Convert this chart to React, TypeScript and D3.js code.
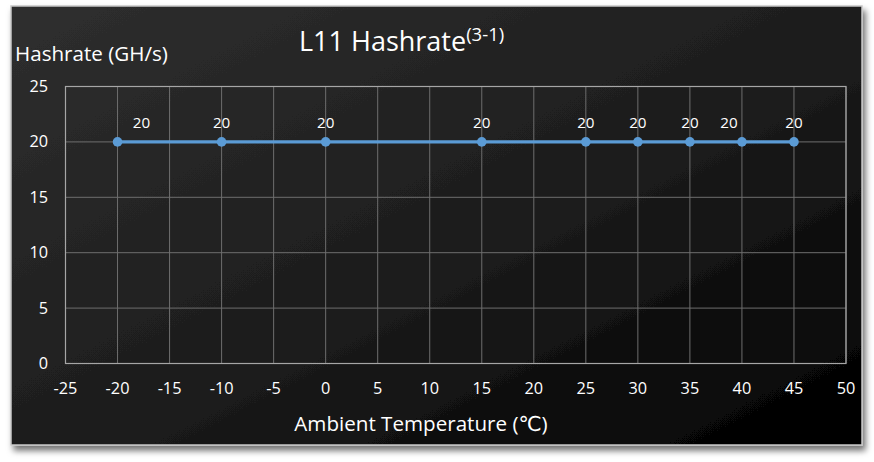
import React from "react";
import * as d3 from "d3";

const temperatures = [-20, -10, 0, 15, 25, 30, 35, 40, 45];
const hashrates = [20, 20, 20, 20, 20, 20, 20, 20, 20];
const xTicks = [-25, -20, -15, -10, -5, 0, 5, 10, 15, 20, 25, 30, 35, 40, 45, 50];
const yTicks = [0, 5, 10, 15, 20, 25];
const titleMain = "L11 Hashrate";
const titleSup = "(3-1)";
const yTitle = "Hashrate (GH/s)";
const xTitle = "Ambient Temperature (℃)";

// label horizontal nudges (layout only)
const labelShift: Record<number, number> = { [-20]: 24, [40]: -13 };

const W = 874;
const H = 462;
const FONT = "'Open Sans', 'DejaVu Sans', sans-serif";

export default function App() {
  const x = d3.scaleLinear().domain([-25, 50]).range([65.5, 846]);
  const y = d3.scaleLinear().domain([0, 25]).range([363.5, 86.5]);
  const line = d3
    .line<number>()
    .x((_, i) => x(temperatures[i]))
    .y((d) => y(d));

  return (
    <svg
      width={W}
      height={H}
      style={{ position: "fixed", left: 0, top: 0, background: "#fff" }}
      fontFamily={FONT}
    >
      <defs>
        <linearGradient id="bg" x1="0" y1="0" x2="1" y2="1">
          <stop offset="0" stopColor="#2f2f2f" />
          <stop offset="0.55" stopColor="#1c1c1c" />
          <stop offset="0.8" stopColor="#0c0c0c" />
          <stop offset="1" stopColor="#000" />
        </linearGradient>
        <filter id="sh" x="-5%" y="-5%" width="110%" height="115%">
          <feDropShadow dx="3" dy="5" stdDeviation="3" floodColor="#000" floodOpacity="0.55" />
        </filter>
      </defs>
      <rect x={11} y={6} width={851} height={439} fill="url(#bg)" stroke="#c8c8c8" strokeWidth={1.5} filter="url(#sh)" />

      {/* grid */}
      {xTicks.map((t) => (
        <line key={"gx" + t} x1={x(t)} x2={x(t)} y1={y(25)} y2={y(0)} stroke="#6e6e6e" strokeWidth={1} />
      ))}
      {yTicks.map((t) => (
        <line key={"gy" + t} x1={x(-25)} x2={x(50)} y1={y(t)} y2={y(t)} stroke="#6e6e6e" strokeWidth={1} />
      ))}
      <rect x={x(-25)} y={y(25)} width={x(50) - x(-25)} height={y(0) - y(25)} fill="none" stroke="#a6a6a6" strokeWidth={1.2} />

      {/* tick labels */}
      {xTicks.map((t) => (
        <text key={"tx" + t} x={x(t)} y={394} fill="#fff" fontSize={16.3} textAnchor="middle">
          {t}
        </text>
      ))}
      {yTicks.map((t) => (
        <text key={"ty" + t} x={48} y={y(t) + 5.5} fill="#fff" fontSize={16.3} textAnchor="end">
          {t}
        </text>
      ))}

      {/* series */}
      <path d={line(hashrates) || ""} fill="none" stroke="#5b9bd5" strokeWidth={3.2} />
      {hashrates.map((v, i) => (
        <circle key={"p" + i} cx={x(temperatures[i])} cy={y(v)} r={4.8} fill="#5b9bd5" />
      ))}
      {hashrates.map((v, i) => (
        <text
          key={"l" + i}
          x={x(temperatures[i]) + (labelShift[temperatures[i]] || 0)}
          y={y(v) - 14}
          fill="#fff"
          fontSize={15.2}
          textAnchor="middle"
        >
          {v}
        </text>
      ))}

      {/* titles */}
      <text x={299} y={51} fill="#fff" fontSize={27}>
        {titleMain}
        <tspan fontSize={18.5} dy={-10}>{titleSup}</tspan>
      </text>
      <text x={15} y={61} fill="#fff" fontSize={20.6}>
        {yTitle}
      </text>
      <text x={421} y={431} fill="#fff" fontSize={20.6} textAnchor="middle">
        {xTitle}
      </text>
    </svg>
  );
}
